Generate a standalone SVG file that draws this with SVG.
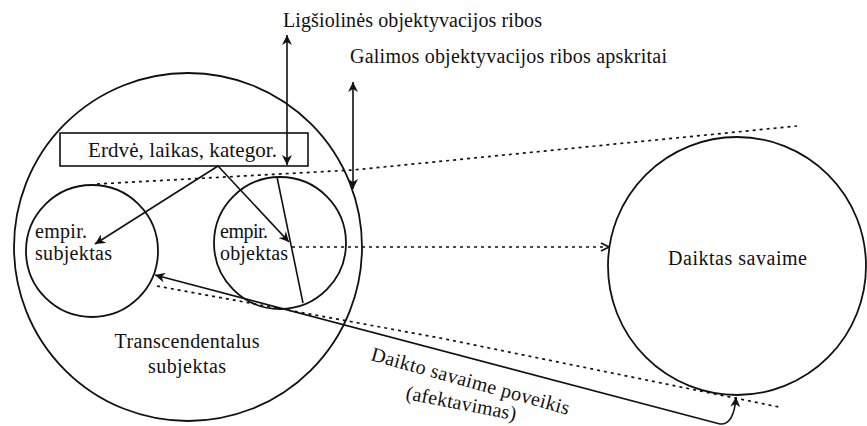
<svg xmlns="http://www.w3.org/2000/svg" width="867" height="426" viewBox="0 0 867 426">
<style>
  .c { fill: none; stroke: #111; stroke-width: 1.8; }
  .ln { fill: none; stroke: #111; stroke-width: 1.6; }
  .dot { fill: none; stroke: #111; stroke-width: 1.7; stroke-dasharray: 3 4; }
</style>
<defs>
  <marker id="ah" viewBox="0 0 10 10" refX="10" refY="5" markerWidth="11" markerHeight="10" markerUnits="userSpaceOnUse" orient="auto-start-reverse">
    <path d="M0,0 L10,5 L0,10 L3,5 z" fill="#111"/>
  </marker>
  <marker id="chev" viewBox="0 0 10 10" refX="9" refY="5" markerWidth="10" markerHeight="10" markerUnits="userSpaceOnUse" orient="auto">
    <path d="M1,1 L9,5 L1,9" fill="none" stroke="#111" stroke-width="1.6"/>
  </marker>
</defs>
<rect width="867" height="426" fill="#fff"/>

<g font-family="Liberation Serif, Times New Roman, serif" font-size="20" fill="#111">
<g id="transcendentalus-subjektas">
  <circle class="c" cx="188" cy="247" r="174"/>
  <text x="187" y="348" text-anchor="middle" textLength="145">Transcendentalus</text>
  <text x="187" y="373" text-anchor="middle" textLength="78">subjektas</text>
</g>

<g id="empir-subjektas">
  <circle class="c" cx="92" cy="251" r="66"/>
  <text x="35" y="238" textLength="52">empir.</text>
  <text x="35" y="260" textLength="77">subjektas</text>
</g>

<g id="empir-objektas">
  <circle class="c" cx="280" cy="243" r="66"/>
  <text x="220" y="238" textLength="48">empir.</text>
  <text x="220" y="260" textLength="68">objektas</text>
</g>

<g id="daiktas-savaime">
  <circle class="c" cx="737" cy="266" r="129"/>
  <text x="737.5" y="265" text-anchor="middle" textLength="139">Daiktas savaime</text>
</g>

<g id="erdve-laikas-kategor">
  <rect class="ln" x="60" y="133" width="248" height="33"/>
  <text x="88" y="157" font-size="21" textLength="189">Erdvė, laikas, kategor.</text>
</g>

<g id="ligsiolines-ribos">
  <text x="283" y="27" textLength="259">Ligšiolinės objektyvacijos ribos</text>
</g>

<g id="galimos-ribos">
  <text x="350" y="63" textLength="317">Galimos objektyvacijos ribos apskritai</text>
</g>

<g id="poveikis-label">
  <text transform="translate(370,360) rotate(15.5)" textLength="205">Daikto savaime poveikis</text>
  <text transform="translate(405,399) rotate(11)" textLength="112">(afektavimas)</text>
</g>
</g>

<g id="connectors">
  <line class="ln" x1="287" y1="35" x2="287" y2="165" marker-start="url(#ah)" marker-end="url(#ah)"/>
  <line class="ln" x1="353" y1="82" x2="353" y2="189" marker-start="url(#ah)" marker-end="url(#ah)"/>
  <polyline class="dot" points="97,184 353,170 797,126"/>
  <polyline class="dot" points="157,286 440,338 779,407"/>
  <line class="ln" x1="218" y1="166" x2="95" y2="244" marker-end="url(#ah)"/>
  <line class="ln" x1="218" y1="166" x2="289" y2="242" marker-end="url(#ah)"/>
  <line class="ln" x1="277" y1="177" x2="303" y2="303"/>
  <line class="dot" x1="292" y1="247" x2="609" y2="247" marker-end="url(#chev)"/>
  <path class="ln" d="M720,424 L155,275" marker-end="url(#ah)"/>
  <path class="ln" d="M720,424 Q734,425 736,397" marker-end="url(#ah)"/>
</g>
</svg>
